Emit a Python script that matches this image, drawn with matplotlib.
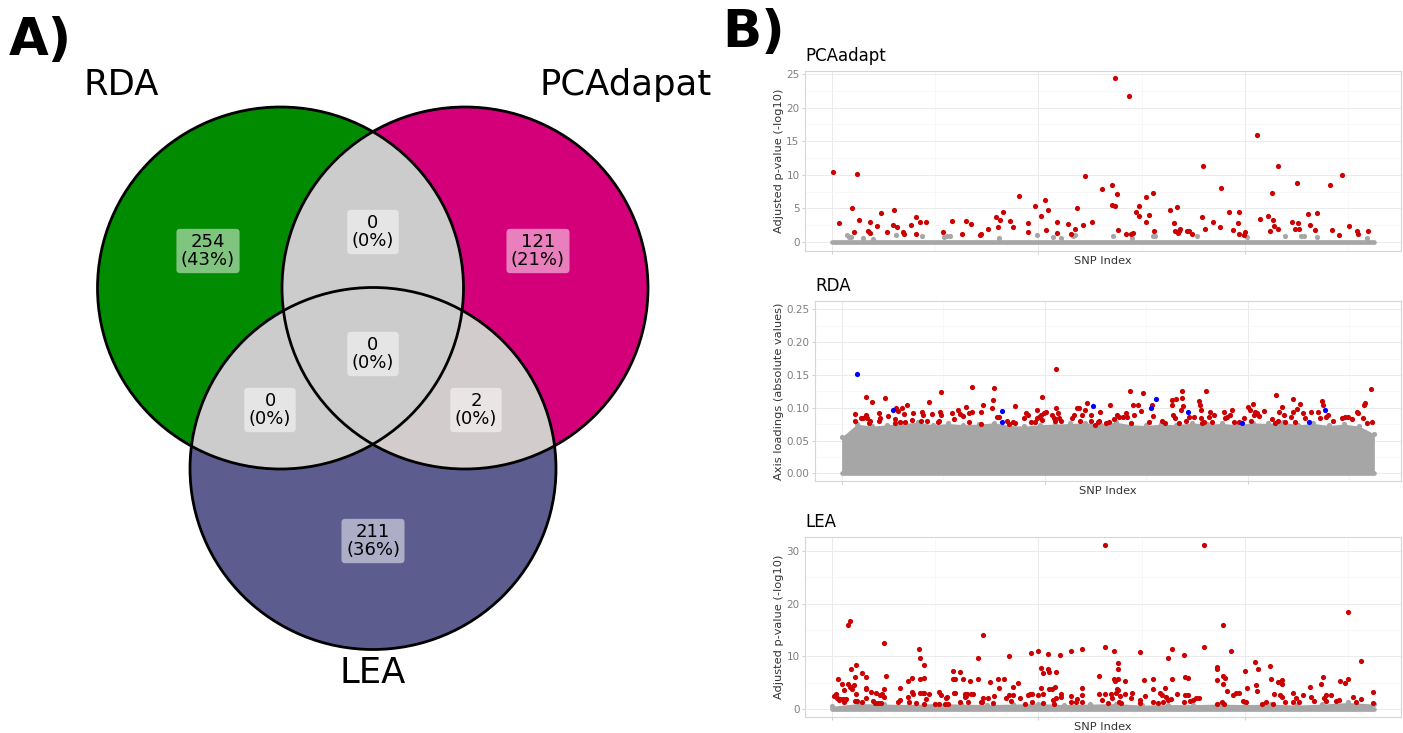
import matplotlib
matplotlib.use('Agg')
import matplotlib.pyplot as plt
from matplotlib.patches import Ellipse
import numpy as np

W, H = 1403, 733

# ---------------- Venn (A) ----------------
set_names = ['RDA', 'PCAdapat', 'LEA']
set_colors = ['#008B00', '#D3007A', '#5C5C8F']
# regions: RDA only, PCA only, LEA only, RDA&PCA, RDA&LEA, PCA&LEA, all three
region_counts = [254, 121, 211, 0, 0, 2, 0]

# ---------------- Manhattan data (B) ----------------
n_snps = 52500

pca_hit_idx = [100, 640, 1960, 2100, 2400, 2580, 3500, 3640, 3700, 4350, 4700, 5280, 5900, 6020,
               6300, 6830, 7000, 7660, 8100, 8150, 8470, 9080, 10720, 11600, 12560, 12980, 13500,
               14330, 14430, 15070, 15850, 16070, 16300, 16520, 17200, 17490, 18070, 18940, 19030,
               19700, 20260, 20670, 20740, 20900, 21770, 21770, 22900, 23160, 23570, 23700, 24280,
               24500, 25200, 26200, 27170, 27400, 27170, 27420, 27600, 27700, 28500, 28780, 28970,
               29130, 29400, 29700, 29740, 30420, 30420, 30740, 31130, 31200, 32770, 33160, 33450,
               33200, 33480, 33670, 33600, 34350, 34600, 34900, 35830, 35930, 36150, 36900, 37600,
               37650, 38500, 38800, 39300, 39400, 39450, 39950, 40050, 41140, 41470, 42240, 42460,
               42680, 42850, 42600, 43170, 43170, 44520, 44900, 45130, 45070, 45200, 46100, 46300,
               46800, 46990, 48260, 48480, 49070, 49450, 50060, 50900, 51000, 51930]
pca_hit_val = [10.37, 2.83, 5.0, 1.44, 10.07, 3.27, 1.69, 3.03, 1.34, 2.43, 4.27, 1.44, 2.48, 4.76,
               2.23, 1.44, 1.24, 2.58, 3.77, 1.19, 2.98, 2.93, 1.44, 3.17, 1.19, 3.08, 2.63,
               1.09, 1.19, 1.88, 3.77, 2.23, 3.27, 4.51, 3.17, 2.23, 6.85, 2.83, 1.44,
               5.41, 3.87, 6.25, 1.84, 4.71, 3.03, 1.29, 2.73, 1.24, 1.93, 5.0, 2.53,
               9.87, 3.03, 7.94, 8.43, 24.45, 5.5, 5.41, 7.19, 1.84, 1.19, 21.68, 1.19,
               1.39, 4.51, 5.31, 3.87, 6.75, 2.98, 4.07, 7.24, 1.64, 4.76, 2.88, 5.26,
               1.59, 1.34, 1.93, 1.59, 1.59, 1.64, 1.14, 3.67, 11.31, 1.98, 3.03, 2.23,
               7.99, 4.51, 1.79, 2.78, 1.19, 4.46, 1.09, 1.44, 15.87, 3.47, 3.92, 1.59,
               3.32, 2.43, 7.34, 11.31, 1.98, 2.93, 1.88, 2.78, 8.78, 1.88, 4.22, 2.58,
               1.84, 4.27, 8.53, 1.79, 1.04, 9.97, 2.33, 1.59, 1.19, 1.69]
pca_null_idx = [1450, 1640, 1870, 3000, 4000, 6150, 8700, 10800, 11100, 11400, 16200, 19900, 21400,
                22200, 23300, 23500, 27200, 29100, 31100, 31300, 35400, 40200, 43900, 45400,
                45700, 47000, 51800]
pca_null_val = [0.99, 0.74, 0.74, 0.55, 0.45, 0.99, 0.89, 0.7, 0.84, 0.94, 0.55, 0.99, 0.7,
                0.55, 0.84, 0.99, 0.94, 0.55, 0.84, 0.84, 0.89, 0.7, 0.94, 0.84,
                0.84, 0.7, 0.55]

rda_hit_idx = [1340, 1300, 1860, 2080, 2380, 2440, 2500, 2740, 2770, 3030, 3680, 3700, 3770, 4300,
               4530, 5240, 5280, 5340, 5540, 5770, 5930, 6160, 6220, 6420, 6900, 7000, 7820, 7880,
               8050, 8370, 8570, 8860, 9510, 9600, 9700, 9800, 9840, 10880, 11070, 11460, 11630,
               11920, 12250, 12600, 12600, 12830, 12870, 13710, 13750, 13970, 14850, 14890, 15000,
               15280, 15470, 16250, 16500, 16840, 17100, 17100, 17980, 18140, 18340, 18630, 19060,
               19220, 19280, 19450, 19600, 19700, 19770, 19930, 20160, 20750, 20910, 21070, 21140,
               21140, 21330, 21400, 21660, 22700, 22870, 23200, 23400, 23520, 23680, 23940, 24170,
               24600, 24600, 25000, 25230, 25400, 25490, 26050, 26380, 26440, 26870, 27130, 27360,
               27680, 28010, 28170, 28370, 28530, 28670, 28860, 29160, 29480, 29710, 30300, 30560,
               30730, 31610, 31870, 32530, 32560, 32690, 32850, 32980, 33240, 33440, 33570, 33570,
               33640, 33900, 34230, 34720, 35210, 35270, 35370, 35370, 35470, 35700, 35860, 36190,
               36350, 36520, 36680, 37660, 37760, 37990, 38250, 38480, 38670, 39200, 39620, 40020,
               40210, 40380, 40540, 40610, 40770, 40930, 41160, 41590, 42400, 42730, 42800, 42990,
               43120, 43390, 43550, 43710, 44300, 44460, 44530, 44690, 44890, 45180, 45510, 45670,
               46260, 46980, 47150, 47380, 47410, 47700, 47900, 48460, 49340, 49600, 49930, 50320,
               50780, 50910, 51400, 51500, 51560, 51730, 52150, 52220]
rda_hit_val = [0.090, 0.080, 0.084, 0.084, 0.116, 0.089, 0.085, 0.076, 0.080, 0.108, 0.092, 0.080, 0.085, 0.115,
               0.088, 0.083, 0.076, 0.099, 0.095, 0.079, 0.100, 0.090, 0.078, 0.104, 0.082, 0.092, 0.080, 0.093,
               0.089, 0.080, 0.108, 0.090, 0.079, 0.080, 0.094, 0.124, 0.089, 0.092, 0.083, 0.097, 0.090,
               0.087, 0.101, 0.079, 0.092, 0.093, 0.132, 0.075, 0.093, 0.104, 0.100, 0.112, 0.130,
               0.086, 0.086, 0.080, 0.075, 0.079, 0.102, 0.077, 0.084, 0.092, 0.089, 0.079, 0.079,
               0.097, 0.084, 0.086, 0.089, 0.117, 0.082, 0.092, 0.094, 0.089, 0.084, 0.080, 0.159,
               0.099, 0.092, 0.084, 0.080, 0.084, 0.089, 0.099, 0.099, 0.080, 0.089, 0.097, 0.107,
               0.089, 0.080, 0.074, 0.079, 0.080, 0.094, 0.076, 0.079, 0.104, 0.083, 0.089, 0.086,
               0.086, 0.092, 0.086, 0.126, 0.076, 0.104, 0.089, 0.104, 0.095, 0.122, 0.079, 0.104,
               0.087, 0.080, 0.076, 0.104, 0.112, 0.089, 0.084, 0.113, 0.076, 0.097, 0.115, 0.125,
               0.102, 0.080, 0.086, 0.086, 0.110, 0.104, 0.097, 0.084, 0.076, 0.079, 0.125, 0.086,
               0.094, 0.079, 0.089, 0.094, 0.084, 0.086, 0.089, 0.097, 0.079, 0.078, 0.084, 0.101,
               0.097, 0.080, 0.105, 0.089, 0.094, 0.092, 0.087, 0.095, 0.083, 0.076, 0.119, 0.080,
               0.094, 0.101, 0.089, 0.079, 0.086, 0.114, 0.094, 0.079, 0.098, 0.105, 0.092, 0.084,
               0.093, 0.093, 0.084, 0.111, 0.104, 0.086, 0.089, 0.080, 0.084, 0.086, 0.086, 0.083,
               0.094, 0.092, 0.084, 0.104, 0.107, 0.076, 0.129, 0.079]
rda_shared_idx = [1530, 5020, 15830, 15800, 24740, 30500, 31020, 34100, 39430, 46070, 47640]
rda_shared_val = [0.151, 0.096, 0.0945, 0.079, 0.103, 0.100, 0.113, 0.0935, 0.076, 0.079, 0.096]
# upper edge of the dense cloud of non-outlier SNPs, every 1500 SNPs
rda_null_top = [0.055, 0.075, 0.072, 0.074, 0.076, 0.078, 0.074, 0.076, 0.074, 0.075, 0.077, 0.073,
                0.072, 0.074, 0.075, 0.076, 0.077, 0.075, 0.078, 0.074, 0.073, 0.075, 0.074, 0.077,
                0.075, 0.076, 0.074, 0.077, 0.076, 0.078, 0.074, 0.076, 0.073, 0.075, 0.072, 0.060]

lea_hit_idx = [160, 350, 480, 580, 640, 800, 1000, 1060, 1160, 1220, 1160, 1320, 1510, 1740, 1550, 1770,
               1840, 1900, 2160, 2190, 2250, 2290, 2320, 2420, 2870, 2900, 3250, 3280, 3320, 3320,
               3740, 3960, 4190, 4280, 4480, 4600, 4700, 4830, 5020, 5020, 5060, 5190, 6400, 6570,
               6600, 7310, 7340, 7410, 7760, 7760, 7830, 8100, 8450, 8550, 8500, 8550, 8800, 8900,
               8950, 8950, 8950, 9100, 9400, 9980, 10340, 10340, 10530, 10900, 11050, 11180, 11240,
               11750, 11750, 11900, 11800, 11900, 12430, 12430, 12720, 12900, 12900, 12980, 13100,
               13200, 13400, 13500, 13700, 14100, 14170, 14400, 14600, 14500, 14650, 15100, 15330,
               15560, 15680, 16070, 16170, 16620, 16870, 17160, 17160, 17360, 17490, 17520, 17970,
               18200, 18690, 18940, 19200, 19230, 19350, 19400, 19940, 19970, 20230, 20230, 20400,
               20450, 20450, 20900, 20900, 20970, 21000, 21350, 21420, 21500, 21600, 21670, 21740,
               22100, 22150, 22150, 23120, 23180, 23180, 23600, 23700, 24190, 24190, 24190, 24190,
               25910, 25910, 26200, 26400, 26490, 26700, 27070, 27170, 27300, 27360, 27460, 27520,
               27600, 27680, 27680, 27680, 27750, 27840, 27900, 27970, 28390, 28420, 28970, 29070,
               29840, 29870, 29870, 30260, 30350, 31060, 31060, 31130, 31550, 31800, 31960, 32030,
               32290, 32350, 32510, 32540, 32830, 32900, 32960, 33380, 34090, 34120, 34150, 34220,
               34500, 34500, 34670, 34990, 35250, 35570, 35990, 35990, 37280, 37340, 37280, 37340,
               37760, 37830, 37900, 37900, 37930, 38060, 38250, 38700, 38800, 39110, 39440, 39820,
               40020, 40080, 40180, 41010, 41050, 41140, 41240, 41690, 42010, 42460, 42500, 42690,
               42850, 43170, 43400, 43560, 43620, 43370, 43590, 43910, 44620, 44620, 44910, 45260,
               45620, 46260, 46430, 46680, 47390, 47580, 47650, 47810, 47810, 48390, 48780, 49160,
               49230, 49740, 49970, 50000, 50480, 50770, 51220, 51290, 52380, 52380, 26400]
lea_hit_val = [2.53, 2.78, 2.15, 5.76, 1.71, 1.96, 4.68, 1.9, 1.39, 1.71, 3.61, 1.84, 15.95, 16.71, 4.68, 4.24,
               7.59, 3.8, 4.56, 1.58, 6.08, 8.42, 2.78, 1.58, 6.9, 1.2, 3.99, 6.08, 3.73, 2.03,
               3.16, 1.52, 1.01, 3.1, 1.08, 2.59, 1.01, 2.91, 12.59, 2.22, 3.8, 6.33, 1.2, 1.65,
               3.92, 5.32, 2.22, 1.39, 3.16, 5.95, 2.85, 1.01, 11.33, 9.62, 3.04, 5.7, 3.04, 3.1,
               8.29, 5.95, 0.89, 1.9, 2.85, 0.95, 0.95, 3.16, 2.59, 0.95, 2.03, 2.34, 0.95,
               7.22, 5.7, 5.7, 3.04, 3.04, 6.96, 1.2, 5.76, 2.91, 2.34, 2.53, 2.78,
               1.39, 5.32, 2.91, 2.91, 9.62, 5.7, 1.33, 13.99, 1.39, 2.15, 2.15, 5.06,
               1.01, 2.47, 5.76, 3.92, 5.7, 2.03, 10.13, 2.59, 1.52, 2.59, 4.24, 5.0,
               2.03, 0.95, 2.59, 2.78, 10.7, 1.39, 2.78, 11.01, 2.59, 3.99, 7.78, 6.9,
               2.78, 1.08, 10.38, 7.59, 6.96, 3.8, 3.86, 1.71, 0.89, 4.24, 7.03, 2.03,
               10.19, 2.85, 2.34, 2.53, 11.01, 1.2, 1.39, 1.9, 11.33, 3.99, 2.66, 1.39,
               6.33, 2.78, 1.71, 11.77, 2.78, 1.01, 2.78, 2.03, 11.08, 5.63, 5.38, 2.97,
               3.73, 8.8, 7.59, 5.76, 3.54, 1.39, 2.53, 1.08, 5.25, 2.85, 2.03, 2.97,
               10.89, 1.71, 1.14, 5.51, 2.47, 5.63, 3.73, 1.39, 1.14, 3.1, 2.66, 1.39,
               4.05, 2.34, 1.71, 9.75, 1.9, 11.33, 5.7, 2.78, 1.39, 10.19, 6.08, 2.66,
               5.95, 2.66, 1.52, 1.71, 2.03, 2.15, 31.14, 11.84, 5.51, 0.95, 7.59, 7.91,
               1.39, 6.33, 15.95, 4.75, 0.89, 5.82, 3.42, 11.08, 2.66, 2.97, 3.1, 1.52,
               7.22, 1.39, 3.92, 8.86, 4.56, 3.42, 7.59, 0.95, 1.39, 8.1, 5.63, 0.95,
               2.78, 5.19, 5.19, 5.51, 4.75, 2.66, 2.34, 1.27, 2.97, 1.27, 2.15, 1.39,
               2.66, 4.24, 2.22, 1.58, 4.68, 6.08, 2.15, 1.58, 2.66, 2.59, 1.58, 1.77,
               5.32, 5.0, 18.35, 5.7, 2.22, 1.39, 9.05, 1.9, 3.29, 1.08, 31.14]
# upper edge of the non-outlier band, every 2500 SNPs
lea_null_top = [0.5, 1.0, 0.9, 0.8, 1.0, 0.9, 0.8, 0.9, 1.0, 0.8, 0.9, 1.0, 0.7, 0.8, 0.8, 0.9,
                0.8, 0.9, 0.7, 0.9, 1.2, 0.9]

RED = '#CC0000'
GREY = '#A6A6A6'
BLUE = '#0000FF'

fig = plt.figure(figsize=(W / 100, H / 100), dpi=100)


def fx(px):
    return px / W


def fy(py):
    return 1 - py / H


# ---- panel A: Venn diagram ----
axv = fig.add_axes([0, 0, 720 / W, 1])
axv.set_xlim(0, 720)
axv.set_ylim(733, 0)
axv.axis('off')

centers = [(280.5, 288), (465, 288), (373, 468.5)]
ew, eh = 366, 362

for c, col in zip(centers, set_colors):
    axv.add_patch(Ellipse(c, ew, eh, facecolor=col, edgecolor='none'))

overlaps = [(1, 2, '#D3CCCC'), (0, 2, '#CCCCCC'), (0, 1, '#CCCCCC')]
for a, b, col in overlaps:
    p = Ellipse(centers[b], ew, eh, facecolor=col, edgecolor='none')
    axv.add_patch(p)
    clip = Ellipse(centers[a], ew, eh, transform=axv.transData)
    p.set_clip_path(clip)

for c in centers:
    axv.add_patch(Ellipse(c, ew, eh, fill=False, edgecolor='black', lw=2.0))

total = sum(region_counts)
label_pos = [(208, 251), (538, 251), (373, 541), (373, 232), (270, 410), (476, 410), (373, 354)]
for (x, y), n in zip(label_pos, region_counts):
    pct = int(round(100 * n / total))
    axv.text(x, y, f'{n}\n({pct}%)', ha='center', va='center', fontsize=13, linespacing=0.95,
             bbox=dict(boxstyle='round,pad=0.25,rounding_size=0.2', fc='white', ec='none', alpha=0.5))

axv.text(121, 95, set_names[0], ha='center', va='baseline', fontsize=25.5)
axv.text(626, 95, set_names[1], ha='center', va='baseline', fontsize=25.5)
axv.text(373, 683, set_names[2], ha='center', va='baseline', fontsize=25.5)

fig.text(fx(9), fy(55), 'A)', fontsize=37, fontweight='bold', va='baseline')
fig.text(fx(722), fy(47), 'B)', fontsize=37, fontweight='bold', va='baseline')


# ---- panel B: Manhattan plots ----
def panel(left, top, right, bottom, ylim, yticks, yminor, ylabels, title, ylabel):
    ax = fig.add_axes([fx(left), fy(bottom), fx(right - left), (bottom - top) / H])
    ax.set_xlim(-0.05 * n_snps, 1.05 * n_snps)
    ax.set_ylim(*ylim)
    ax.set_xticks([0, 20000, 40000])
    ax.set_xticks([10000, 30000, 50000], minor=True)
    ax.set_xticklabels([])
    ax.set_yticks(yticks)
    ax.set_yticklabels(ylabels)
    ax.set_yticks(yminor, minor=True)
    ax.grid(which='major', color='#EBEBEB', lw=0.7)
    ax.grid(which='minor', color='#F5F5F5', lw=0.5)
    ax.set_axisbelow(True)
    for s in ax.spines.values():
        s.set_color('#D6D6D6')
        s.set_linewidth(0.8)
    ax.tick_params(which='major', labelsize=7.5, labelcolor='#7F7F7F', color='#C8C8C8',
                   length=2.5, width=0.6, pad=1.5)
    ax.tick_params(which='minor', length=0)
    mid = (left + right) / 2
    fig.text(fx(left), fy(top - 10), title, fontsize=12, va='baseline', ha='left')
    fig.text(fx(mid), fy(bottom + 13), 'SNP Index', fontsize=8.2, color='#333333',
             ha='center', va='baseline')
    fig.text(fx(779), fy((top + bottom) / 2), ylabel, fontsize=8.2, color='#333333',
             rotation=90, ha='center', va='center')
    return ax


# PCAadapt
ax1 = panel(805, 71, 1401, 251, (-1.34, 25.45), [0, 5, 10, 15, 20, 25],
            [2.5, 7.5, 12.5, 17.5, 22.5], ['0', '5', '10', '15', '20', '25'],
            'PCAadapt', 'Adjusted p-value (-log10)')
ax1.plot([0, n_snps], [0, 0], color=GREY, lw=3.4, solid_capstyle='round', zorder=2)
ax1.scatter(pca_null_idx, pca_null_val, s=14, color=GREY, linewidths=0, zorder=2)
ax1.scatter(pca_hit_idx, pca_hit_val, s=14, color=RED, linewidths=0, zorder=3)

# RDA
ax2 = panel(815, 301, 1401, 481, (-0.0117, 0.2627), [0, 0.05, 0.10, 0.15, 0.20, 0.25],
            [0.025, 0.075, 0.125, 0.175, 0.225],
            ['0.00', '0.05', '0.10', '0.15', '0.20', '0.25'],
            'RDA', 'Axis loadings (absolute values)')
rda_x = np.linspace(0, n_snps, len(rda_null_top))
ax2.fill_between(rda_x, 0, rda_null_top, color=GREY, lw=0, zorder=2)
ax2.plot([0, n_snps], [0, 0], color=GREY, lw=3.4, solid_capstyle='round', zorder=2)
ax2.scatter(rda_x, rda_null_top, s=14, color=GREY, linewidths=0, zorder=2)
ax2.scatter(rda_hit_idx, rda_hit_val, s=14, color=RED, linewidths=0, zorder=3)
ax2.scatter(rda_shared_idx, rda_shared_val, s=14, color=BLUE, linewidths=0, zorder=4)

# LEA
ax3 = panel(805, 537, 1401, 717, (-1.56, 32.7), [0, 10, 20, 30], [5, 15, 25],
            ['0', '10', '20', '30'], 'LEA', 'Adjusted p-value (-log10)')
lea_x = np.linspace(0, n_snps, len(lea_null_top))
ax3.fill_between(lea_x, 0, lea_null_top, color=GREY, lw=0, zorder=2)
ax3.plot([0, n_snps], [0, 0], color=GREY, lw=3.4, solid_capstyle='round', zorder=2)
ax3.scatter(lea_x, lea_null_top, s=14, color=GREY, linewidths=0, zorder=2)
ax3.scatter(lea_hit_idx, lea_hit_val, s=14, color=RED, linewidths=0, zorder=3)

fig.savefig('out.png', dpi=100)
